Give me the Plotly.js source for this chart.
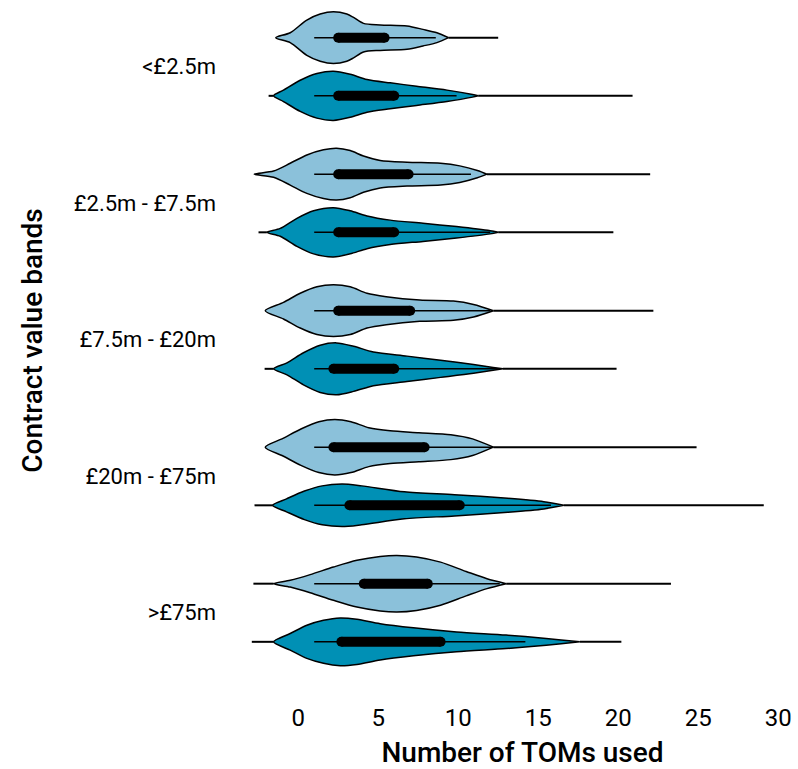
<!DOCTYPE html>
<html>
<head>
<meta charset="utf-8">
<script src="https://cdn.plot.ly/plotly-3.0.1.min.js"></script>
<style>html,body{margin:0;padding:0;background:#fff;}#chart{width:798px;height:769px;}</style>
</head>
<body>
<div id="chart"></div>
<script>
// Categories (top to bottom)
const categories = ["<£2.5m", "£2.5m - £7.5m", "£7.5m - £20m", "£20m - £75m", ">£75m"];

// Light-blue series: density profile (x value, relative half-width)
const lightProfileX = [
  [-1.4, -0.5, 0.54, 1.375, 2.2, 3.04, 3.46, 4.08, 5.125, 6.8, 7.8, 8.67, 9.4],
  [-2.75, -1.54, -0.5, 0.54, 1.58, 2.4, 3.25, 4.08, 5.125, 6.8, 8.9, 10.1, 11.2, 11.8],
  [-2.06, -0.92, 0.125, 1.17, 2.2, 3.25, 4.3, 5.5, 7.6, 9.7, 10.96, 12.2],
  [-2.06, -0.95, 0.17, 1.29, 2.29, 3.3, 4.41, 5.75, 7.54, 9.54, 10.9, 12.2],
  [-1.54, -0.5, 0.75, 2.2, 3.67, 5.125, 6.17, 7.4, 8.9, 10.5, 11.8, 13.0]
];
const lightProfileD = [
  [0, 0.19, 0.68, 0.91, 1.0, 0.91, 0.78, 0.55, 0.49, 0.45, 0.32, 0.19, 0],
  [0, 0.12, 0.42, 0.74, 0.94, 1.0, 0.91, 0.7, 0.53, 0.46, 0.42, 0.32, 0.14, 0],
  [0, 0.32, 0.67, 0.92, 1.0, 0.92, 0.67, 0.54, 0.41, 0.37, 0.24, 0],
  [0, 0.34, 0.7, 0.98, 1.07, 0.98, 0.75, 0.63, 0.56, 0.48, 0.32, 0],
  [0, 0.13, 0.35, 0.64, 0.9, 1.05, 1.09, 1.03, 0.83, 0.47, 0.19, 0]
];
const lightTailStart = [-1.4, -2.75, -2.06, -2.06, -2.8];
const lightMax = [12.5, 22.0, 22.2, 24.9, 23.3];
const lightWhiskerLo = [1, 1, 1, 1, 1];
const lightQ1 = [2.5, 2.5, 2.5, 2.2, 4.1];
const lightQ3 = [5.4, 6.9, 7.0, 7.9, 8.1];
const lightWhiskerHi = [8.6, 10.8, 12.0, 12.2, 12.6];

// Dark-teal series
const darkProfileX = [
  [-1.54, -0.92, 0.125, 1.17, 2.2, 3.25, 4.3, 5.75, 7.4, 9.3, 10.9, 11.25],
  [-1.96, -1.125, -0.08, 0.96, 2.2, 3.25, 4.3, 5.75, 7.8, 9.9, 12.0, 12.5],
  [-1.54, -0.7, 0.33, 1.375, 2.4, 3.46, 4.7, 6.8, 8.9, 10.96, 12.8],
  [-1.6, -0.73, 0.39, 1.5, 2.74, 3.96, 6.64, 9.77, 13.1, 15.35, 16.6],
  [-1.54, -0.5, 0.54, 1.58, 2.625, 3.67, 5.125, 7.2, 9.9, 13.0, 15.5, 17.6]
];
const darkProfileD = [
  [0, 0.22, 0.6, 0.86, 0.95, 0.83, 0.63, 0.5, 0.37, 0.22, 0.05, 0],
  [0, 0.15, 0.54, 0.83, 0.95, 0.83, 0.63, 0.47, 0.35, 0.22, 0.06, 0],
  [0, 0.23, 0.62, 0.91, 1.0, 0.87, 0.65, 0.49, 0.33, 0.17, 0],
  [0, 0.25, 0.55, 0.75, 0.82, 0.75, 0.52, 0.41, 0.27, 0.14, 0],
  [0, 0.32, 0.64, 0.83, 0.92, 0.87, 0.7, 0.54, 0.38, 0.26, 0.13, 0]
];
const darkTailStart = [-1.85, -2.48, -2.1, -2.73, -2.9];
const darkMax = [20.9, 19.7, 19.9, 29.1, 20.2];
const darkWhiskerLo = [1, 1, 1, 1, 1];
const darkQ1 = [2.5, 2.5, 2.2, 3.2, 2.7];
const darkQ3 = [6.0, 6.0, 6.0, 10.1, 8.9];
const darkWhiskerHi = [9.9, 12.0, 12.6, 15.8, 14.2];

const xTicks = [0, 5, 10, 15, 20, 25, 30];

// ---- drawing ----
const LIGHT = "#8bc1da";
const DARK = "#0090b5";
const HALF = 0.19;     // y-units for relative density 1
const OFFSET = 0.213;  // vertical offset of each violin from category centre

const traces = [];
function addViolin(cy, px, pd, tailStart, mx, wlo, q1, q3, whi, color) {
  const xs = px.concat(px.slice().reverse());
  const ys = pd.map(d => cy - d * HALF).concat(pd.slice().reverse().map(d => cy + d * HALF));
  traces.push({type: "scatter", mode: "lines", x: [tailStart, px[0], null, px[px.length - 1], mx],
    y: [cy, cy, null, cy, cy], line: {color: "#000", width: 2}, hoverinfo: "skip"});
  traces.push({type: "scatter", mode: "lines", x: xs, y: ys, fill: "toself", fillcolor: color,
    line: {color: "#000", width: 1.5, shape: "spline", smoothing: 0.8}, hoverinfo: "skip"});
  traces.push({type: "scatter", mode: "lines", x: [wlo, whi], y: [cy, cy],
    line: {color: "#000", width: 1.5}, hoverinfo: "skip"});
  traces.push({type: "scatter", mode: "lines+markers", x: [q1, q3], y: [cy, cy],
    line: {color: "#000", width: 10}, marker: {color: "#000", size: 10}, hoverinfo: "skip"});
}
categories.forEach((c, g) => {
  addViolin(g - OFFSET, lightProfileX[g], lightProfileD[g], lightTailStart[g], lightMax[g],
    lightWhiskerLo[g], lightQ1[g], lightQ3[g], lightWhiskerHi[g], LIGHT);
  addViolin(g + OFFSET, darkProfileX[g], darkProfileD[g], darkTailStart[g], darkMax[g],
    darkWhiskerLo[g], darkQ1[g], darkQ3[g], darkWhiskerHi[g], DARK);
});

const layout = {
  width: 798, height: 769,
  margin: {l: 247, r: 0, t: 0, b: 88},
  showlegend: false,
  paper_bgcolor: "#fff", plot_bgcolor: "#fff",
  font: {family: "Roboto, sans-serif", color: "#000"},
  xaxis: {
    range: [-3.2, 31.24], tickvals: xTicks, ticktext: xTicks.map(String),
    showgrid: false, zeroline: false, showline: false, ticks: "",
    tickfont: {family: "Roboto", size: 24, color: "#000"},
    ticklabelstandoff: 20,
    title: {text: "Number of TOMs used", font: {family: "Roboto", size: 28, weight: 500, color: "#000"}}
  },
  yaxis: {
    range: [4.5, -0.489], tickvals: categories.map((c, i) => i), ticktext: categories,
    showgrid: false, zeroline: false, showline: false, ticks: "",
    tickfont: {family: "Roboto", size: 22, color: "#000"},
    ticklabelstandoff: 30,
    automargin: true,
    title: {text: "Contract value bands", standoff: 22, font: {family: "Roboto", size: 28, weight: 500, color: "#000"}}
  }
};
Plotly.newPlot("chart", traces, layout, {staticPlot: true, displayModeBar: false});
</script>
</body>
</html>
